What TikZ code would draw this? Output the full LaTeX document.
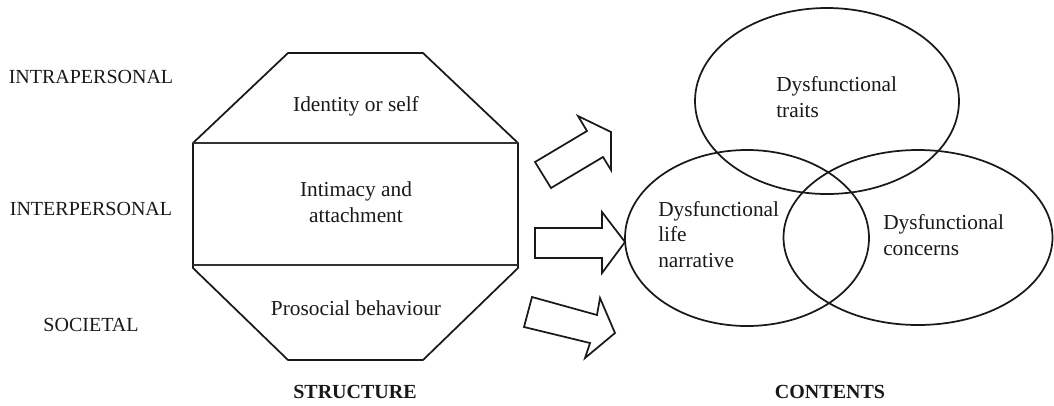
\documentclass[tikz,border=0pt]{standalone}
\usepackage{fontspec}
\setmainfont{Liberation Serif}
\begin{document}
\begin{tikzpicture}[x=0.75pt,y=-0.75pt,
  outline/.style={draw=black!90, line width=1.3pt, line join=miter},
  divider/.style={draw=black!80, line width=0.8pt},
  blockarrow/.style={draw=black!90, line width=1.3pt, line join=miter, fill=white},
  body/.style={inner sep=0pt, text=black!90, font=\fontsize{16}{19}\selectfont},
  level/.style={inner sep=0pt, text=black!90, font=\fontsize{15}{19}\selectfont},
  heading/.style={inner sep=0pt, text=black!90, font=\fontsize{15}{19}\selectfont\bfseries}]
\useasboundingbox (0,0) rectangle (1054,405);

% levels on the left
\node[level, anchor=base] (intra) at (91,83)  {INTRAPERSONAL};
\node[level, anchor=base] (inter) at (91,215) {INTERPERSONAL};
\node[level, anchor=base] (soc)   at (91,331) {SOCIETAL};

% octagon of the structure (multi-line nodes sit on their last baseline)
\draw[outline] (288,53) -- (423,53) -- (518,143) -- (518,268) -- (423,360)
  -- (288,360) -- (193,268) -- (193,143) -- cycle;
\draw[divider] (193,143) -- (518,143);
\draw[divider] (193,265) -- (518,265);
\node[body, anchor=base] (ident) at (356,111) {Identity or self};
\node[body, anchor=base, align=center] (intim) at (356,222) {Intimacy and\\attachment};
\node[body, anchor=base] (prosoc) at (356,315) {Prosocial behaviour};
\node[heading, anchor=base] (struct) at (355,398) {STRUCTURE};

% block arrows
\draw[blockarrow] (535,162) -- (587,131) -- (578,116) -- (611,132) -- (611,170)
  -- (603,157) -- (551,188) -- cycle;
\draw[blockarrow] (535,228) -- (602,228) -- (602,212) -- (625,242) -- (602,273)
  -- (602,258) -- (535,258) -- cycle;
\draw[blockarrow] (532,297) -- (597,315) -- (600,298) -- (615,333) -- (585,358)
  -- (590,343) -- (524,327) -- cycle;

% contents: three overlapping ellipses
\coordinate (traitsC) at (827,101);
\coordinate (lifeC) at (747,238);
\coordinate (concC) at (918,237.5);
\draw[outline] (traitsC) ellipse [x radius=132, y radius=93];
\draw[outline] (lifeC) ellipse [x radius=122, y radius=88];
\draw[outline] (concC) ellipse [x radius=134.5, y radius=87.5];
\node[body, anchor=base west, align=left] (traits) at (776,117) {Dysfunctional\\traits};
\node[body, anchor=base west, align=left] (life) at (658,267) {Dysfunctional\\life\\narrative};
\node[body, anchor=base west, align=left] (conc) at (883,255) {Dysfunctional\\concerns};
\node[heading, anchor=base] (cont) at (830,398) {CONTENTS};
\end{tikzpicture}
\end{document}
